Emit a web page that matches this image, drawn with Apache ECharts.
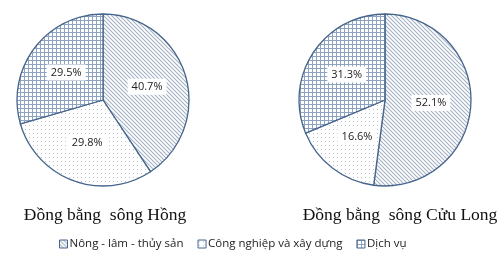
<!DOCTYPE html>
<html><head><meta charset="utf-8">
<script src="https://cdn.jsdelivr.net/npm/echarts@6/dist/echarts.min.js"></script>
<style>html,body{margin:0;padding:0;background:#fff}#c{width:499px;height:263px}</style>
</head><body><div id="c"></div>
<script>
const categories = ['Nông - lâm - thủy sản', 'Công nghiệp và xây dựng', 'Dịch vụ'];
const valuesHong = [40.7, 29.8, 29.5];
const valuesCuuLong = [52.1, 16.6, 31.3];
const titles = ['Đồng bằng  sông Hồng', 'Đồng bằng  sông Cửu Long'];

function makePattern(kind) {
  const c = document.createElement('canvas');
  const ctx = c.getContext('2d');
  if (kind === 'diag') {
    const s = 4; c.width = s; c.height = s;
    ctx.fillStyle = '#ffffff'; ctx.fillRect(0, 0, s, s);
    ctx.strokeStyle = '#a3b2c4'; ctx.lineWidth = 1.1;
    ctx.beginPath();
    ctx.moveTo(-1, -1); ctx.lineTo(s + 1, s + 1);
    ctx.moveTo(-1, s - 1); ctx.lineTo(1, s + 1);
    ctx.moveTo(s - 1, -1); ctx.lineTo(s + 1, 1);
    ctx.stroke();
  } else if (kind === 'dots') {
    const s = 4; c.width = s; c.height = s;
    ctx.fillStyle = '#ffffff'; ctx.fillRect(0, 0, s, s);
    ctx.fillStyle = '#bcc3cc';
    ctx.fillRect(1, 1, 1, 1);
  } else {
    const s = 4; c.width = s; c.height = s;
    ctx.fillStyle = '#ffffff'; ctx.fillRect(0, 0, s, s);
    ctx.fillStyle = '#8ea3c0';
    ctx.fillRect(0, 0, s, 1);
    ctx.fillRect(0, 0, 1, s);
  }
  return { image: c, repeat: 'repeat' };
}
const colors = [makePattern('diag'), makePattern('dots'), makePattern('grid')];

function pieSeries(vals, center) {
  return {
    type: 'pie',
    radius: 86,
    center: center,
    startAngle: 90,
    clockwise: true,
    animation: false,
    silent: true,
    data: categories.map((n, i) => ({ name: n, value: vals[i], itemStyle: { color: colors[i] } })),
    itemStyle: { borderColor: '#46658c', borderWidth: 1.3 },
    label: {
      position: 'inside',
      formatter: p => p.value.toFixed(1) + '%',
      backgroundColor: '#ffffff',
      padding: [3, 4, 2, 4],
      color: '#222222',
      fontFamily: 'Open Sans',
      fontSize: 11
    },
    labelLine: { show: false }
  };
}

const chart = echarts.init(document.getElementById('c'), null, { renderer: 'canvas' });
chart.setOption({
  backgroundColor: '#ffffff',
  title: [
    { text: titles[0], left: 100, top: 201, textAlign: 'center',
      textStyle: { fontFamily: 'Liberation Serif', fontWeight: 'normal', fontSize: 17.5, color: '#111' } },
    { text: titles[1], left: 395, top: 201, textAlign: 'center',
      textStyle: { fontFamily: 'Liberation Serif', fontWeight: 'normal', fontSize: 17.5, color: '#111' } }
  ],
  legend: {
    data: categories,
    left: 54, top: 233,
    itemWidth: 8, itemHeight: 8, itemGap: 14,
    icon: 'rect',
    itemStyle: { borderColor: '#46658c', borderWidth: 1 },
    textStyle: { fontFamily: 'Open Sans', fontSize: 11.5, color: '#222', padding: [0, 0, 0, -3] },
    selectedMode: false
  },
  series: [pieSeries(valuesHong, [103, 100]), pieSeries(valuesCuuLong, [385, 100])]
});
</script></body></html>
